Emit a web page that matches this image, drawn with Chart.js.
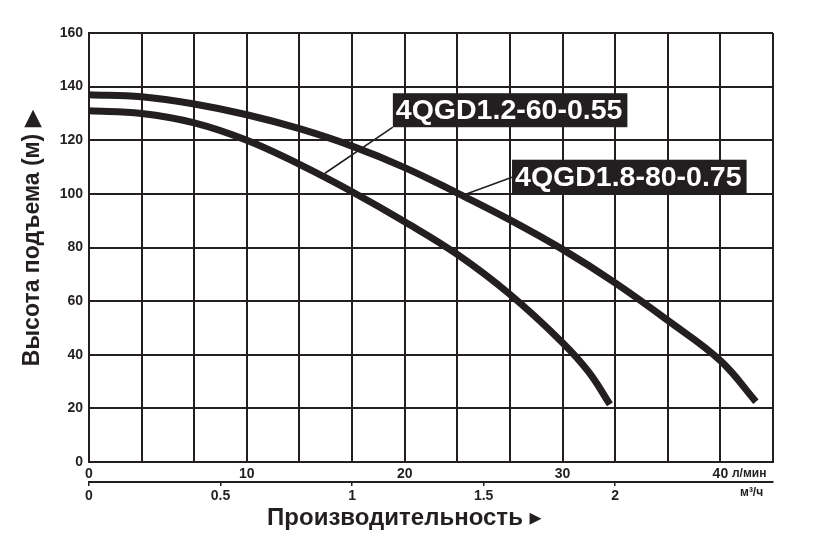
<!DOCTYPE html>
<html>
<head>
<meta charset="utf-8">
<script src="https://cdn.jsdelivr.net/npm/chart.js@4/dist/chart.umd.min.js"></script>
<style>
  html, body { margin: 0; padding: 0; background: #fff; }
  #wrap { width: 834px; height: 553px; }
</style>
</head>
<body>
<div id="wrap"><canvas id="mycanvas" width="834" height="553"></canvas></div>
<script>
// flow in m3/h, head in m
const flowSmall = [0, 0.2, 0.4, 0.6, 0.8, 1.0, 1.2, 1.4, 1.6, 1.8, 1.9, 1.98]
const headSmall = [131, 130, 126.5, 120, 111, 100.8, 89.6, 77.4, 62.5, 44.5, 33.5, 21.5]
const flowBig = [0, 0.2, 0.4, 0.6, 0.8, 1.0, 1.2, 1.4, 1.6, 1.8, 2.0, 2.2, 2.4, 2.535]
const headBig = [137, 136.2, 133.5, 129.5, 124.3, 117.8, 109.8, 100.3, 90.3, 79.3, 66.8, 52.8, 37.8, 22.5]

const modelNames = ["4QGD1.2-60-0.55", "4QGD1.8-80-0.75"]
const headTicks = [0, 20, 40, 60, 80, 100, 120, 140, 160]
const lpmTicks = [0, 10, 20, 30, 40]
const m3hTicks = [0, 0.5, 1, 1.5, 2]

const INK = "#231f20"
const SANS = "'Liberation Sans', Arial, 'DejaVu Sans', sans-serif"

function toPoints(xs, ys) {
  return xs.map((x, i) => ({x: x, y: ys[i]}))
}

// boxes with model names + leader lines, positions in axis units
const labelPlugin = {
  id: "modelLabels",
  afterDatasetsDraw(chart) {
    const ctx = chart.ctx
    const xs = chart.scales.x
    const ys = chart.scales.y
    const boxes = [
      {text: modelNames[0], x: 1.155, yc: 131.2, from: [0.897, 107.7], to: [1.155, 124.9]},
      {text: modelNames[1], x: 1.608, yc: 106.4, from: [1.429, 99.8], to: [1.608, 106.2]}
    ]
    ctx.save()
    ctx.font = "bold 28.5px " + SANS
    boxes.forEach(b => {
      ctx.strokeStyle = INK
      ctx.lineWidth = 1.6
      ctx.beginPath()
      ctx.moveTo(xs.getPixelForValue(b.from[0]), ys.getPixelForValue(b.from[1]))
      ctx.lineTo(xs.getPixelForValue(b.to[0]), ys.getPixelForValue(b.to[1]))
      ctx.stroke()

      var left = xs.getPixelForValue(b.x)
      var cy = ys.getPixelForValue(b.yc)
      var w = ctx.measureText(b.text).width + 8
      ctx.fillStyle = INK
      ctx.fillRect(left, cy - 17, w, 34)
      ctx.fillStyle = "#fff"
      ctx.textBaseline = "middle"
      ctx.textAlign = "left"
      ctx.fillText(b.text, left + 3, cy + 1)
    })

    // units next to the flow scales
    ctx.fillStyle = INK
    ctx.font = "bold 12px " + SANS
    ctx.textAlign = "left"
    ctx.textBaseline = "middle"
    ctx.fillText("л/мин", 732, 474)
    ctx.fillText("м³/ч", 740, 493)
    ctx.restore()
  }
}

const ctx = document.getElementById("mycanvas").getContext("2d")
window.chart = new Chart(ctx, {
  type: "line",
  data: {
    datasets: [
      {
        label: modelNames[0],
        data: toPoints(flowSmall, headSmall),
        borderColor: INK,
        borderWidth: 7,
        pointRadius: 0,
        tension: 0.4,
        fill: false
      },
      {
        label: modelNames[1],
        data: toPoints(flowBig, headBig),
        borderColor: INK,
        borderWidth: 7,
        pointRadius: 0,
        tension: 0.4,
        fill: false
      }
    ]
  },
  options: {
    responsive: false,
    animation: false,
    events: [],
    layout: {padding: {left: 0, top: 33, right: 61, bottom: 18}},
    plugins: {legend: {display: false}, tooltip: {enabled: false}},
    scales: {
      x: {
        type: "linear",
        position: "bottom",
        weight: 0,
        min: 0,
        max: 2.6,
        ticks: {display: false, stepSize: 0.2},
        grid: {color: INK, lineWidth: 2, drawTicks: false},
        border: {color: INK, width: 2},
        afterFit: s => { s.height = 0 }
      },
      xl: {
        type: "linear",
        position: "bottom",
        weight: 1,
        min: 0,
        max: 2.6 * 1000 / 60,
        afterBuildTicks: s => { s.ticks = lpmTicks.map(v => ({value: v})) },
        ticks: {color: INK, padding: 4, maxRotation: 0, font: {family: SANS, size: 14, weight: "bold"}},
        grid: {display: false, drawTicks: false},
        border: {display: false},
        afterFit: s => { s.height = 20 }
      },
      xm: {
        type: "linear",
        position: "bottom",
        weight: 2,
        min: 0,
        max: 2.6,
        afterBuildTicks: s => { s.ticks = m3hTicks.map(v => ({value: v})) },
        ticks: {
          color: INK, padding: 2, maxRotation: 0,
          font: {family: SANS, size: 14, weight: "bold"},
          callback: v => String(v)
        },
        grid: {drawOnChartArea: false, color: INK, lineWidth: 1.5, tickLength: 4},
        border: {color: INK, width: 2},
        title: {
          display: true,
          // trailing spaces move the title left, like in the picture
          text: "Производительность ▸        ",
          color: INK,
          font: {family: SANS, size: 24, weight: "bold"},
          padding: {top: 0, bottom: 2}
        },
        afterFit: s => { s.height = 53 }
      },
      y: {
        type: "linear",
        min: 0,
        max: 160,
        afterBuildTicks: s => { s.ticks = headTicks.map(v => ({value: v})) },
        ticks: {color: INK, padding: 6, font: {family: SANS, size: 14, weight: "bold"}},
        grid: {color: INK, lineWidth: 2, drawTicks: false},
        border: {color: INK, width: 2},
        title: {
          display: true,
          text: "   Высота подъема (м) ▶",
          color: INK,
          font: {family: SANS, size: 23, weight: "bold"},
          padding: {top: 19, bottom: 0}
        },
        afterFit: s => { s.width = 89 }
      }
    }
  },
  plugins: [labelPlugin]
})
</script>
</body>
</html>
